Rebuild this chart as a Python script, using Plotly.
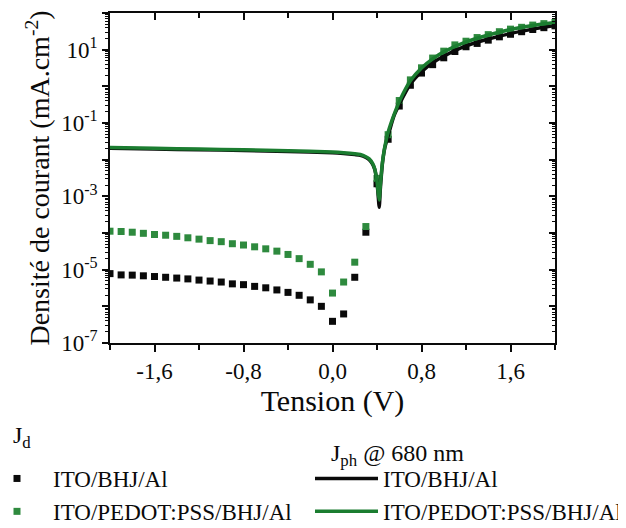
import plotly.graph_objects as go

# ---------------- data ----------------
v_dark = [-2.0, -1.9, -1.8, -1.7, -1.6, -1.5, -1.4, -1.3, -1.2, -1.1, -1.0,
          -0.9, -0.8, -0.7, -0.6, -0.5, -0.4, -0.3, -0.2, -0.1, 0.0,
          0.1, 0.2, 0.3, 0.4, 0.5, 0.6, 0.7, 0.8, 0.9, 1.0,
          1.1, 1.2, 1.3, 1.4, 1.5, 1.6, 1.7, 1.8, 1.9, 2.0]

jd_ito = [7.8e-6, 7.2e-6, 7.1e-6, 6.8e-6, 6.5e-6, 6.2e-6, 5.9e-6, 5.6e-6, 5.2e-6, 4.9e-6, 4.6e-6,
          4.1e-6, 3.9e-6, 3.5e-6, 3.2e-6, 2.8e-6, 2.4e-6, 2.0e-6, 1.5e-6, 1.0e-6, 3.9e-7,
          6.2e-7, 6.2e-6, 1.05e-4, 2.2e-3, 3.6e-2, 0.29, 1.07, 2.3, 3.9, 6.0,
          8.9, 12.0, 14.8, 18.2, 22.4, 26.3, 30.9, 35.5, 39.8, 44.7]

jd_pedot = [1.12e-4, 1.10e-4, 1.05e-4, 9.8e-5, 9.1e-5, 8.7e-5, 8.1e-5, 7.4e-5, 6.8e-5, 6.2e-5, 5.8e-5,
            5.1e-5, 4.7e-5, 4.2e-5, 3.7e-5, 3.2e-5, 2.6e-5, 2.0e-5, 1.4e-5, 8.7e-6, 2.3e-6,
            4.6e-6, 1.6e-5, 1.5e-4, 3.1e-3, 4.8e-2, 0.41, 1.5, 3.2, 5.9, 9.1,
            13.5, 17.0, 21.4, 25.7, 30.9, 36.3, 40.7, 46.8, 51.3, 55.0]

v_ph = [-2.0, -1.6, -1.2, -0.8, -0.4, 0.0, 0.1, 0.2, 0.25, 0.3, 0.33, 0.36, 0.38,
        0.40, 0.41, 0.42, 0.43, 0.44, 0.45, 0.47, 0.5, 0.55, 0.6, 0.7, 0.8, 0.9,
        1.0, 1.2, 1.4, 1.6, 1.8, 2.0]

jph_ito = [0.0204, 0.0195, 0.0186, 0.0178, 0.0166, 0.0155, 0.0148, 0.0138, 0.0132, 0.0115,
           0.0100, 0.0076, 0.0054, 0.0024, 0.0011, 0.0005, 0.0016, 0.0040, 0.0085, 0.021,
           0.045, 0.15, 0.32, 1.15, 2.5, 4.4, 6.6, 12.6, 19.5, 27.5, 36.3, 45.7]

jph_pedot = [0.0214, 0.0204, 0.0195, 0.0186, 0.0174, 0.0162, 0.0155, 0.0145, 0.0138, 0.0120,
             0.0105, 0.0079, 0.0056, 0.0025, 0.0013, 0.0008, 0.0020, 0.0045, 0.0089, 0.0224,
             0.056, 0.158, 0.38, 1.41, 3.16, 5.6, 8.7, 16.2, 25.1, 35.5, 45.7, 55.0]

x_major = [-1.6, -0.8, 0.0, 0.8, 1.6]
x_major_text = ["-1,6", "-0,8", "0,0", "0,8", "1,6"]
x_minor = [-2.0, -1.2, -0.4, 0.4, 1.2, 2.0]
y_major = [1e2, 1e1, 1e0, 1e-1, 1e-2, 1e-3, 1e-4, 1e-5, 1e-6, 1e-7]
y_major_text = ["", "10<sup>1</sup>", "", "10<sup>-1</sup>", "", "10<sup>-3</sup>", "",
                "10<sup>-5</sup>", "", "10<sup>-7</sup>"]
y_minor = [m * 10.0 ** e for e in range(-7, 2) for m in range(2, 10)]

# ---------------- style ----------------
SERIF = "Liberation Serif"
BLACK = "#0a0a0a"
GREEN_SQ = "#2e8a3e"
GREEN_LN = "#1b7d30"

# the page body has an 8 px margin, so the figure is drawn 8 px in from the window corner
OFF = 8
W, H = 626 - OFF, 528 - OFF
# target plot area in window pixels: left 110, right 555, top 13, bottom 343
L, R, T, B = 110 - OFF, 626 - 555, 13 - OFF, 528 - 343
PW, PH = W - L - R, H - T - B


def px_x(px):
    return (px - OFF - L) / PW


def px_y(py):
    return 1 - (py - OFF - T) / PH


fig = go.Figure()

fig.add_trace(go.Scatter(x=v_dark, y=jd_ito, mode="markers", name="ITO/BHJ/Al",
                         marker=dict(symbol="square", size=7, color=BLACK),
                         legend="legend"))
fig.add_trace(go.Scatter(x=v_dark, y=jd_pedot, mode="markers", name="ITO/PEDOT:PSS/BHJ/Al",
                         marker=dict(symbol="square", size=7, color=GREEN_SQ),
                         legend="legend"))
fig.add_trace(go.Scatter(x=v_ph, y=jph_ito, mode="lines", name="ITO/BHJ/Al",
                         line=dict(color=BLACK, width=3.5, shape="spline", smoothing=0.6),
                         legend="legend2"))
fig.add_trace(go.Scatter(x=v_ph, y=jph_pedot, mode="lines", name="ITO/PEDOT:PSS/BHJ/Al",
                         line=dict(color=GREEN_LN, width=3.5, shape="spline", smoothing=0.6),
                         legend="legend2"))
# empty trace anchoring the mirrored (top / right) axes
fig.add_trace(go.Scatter(x=[None], y=[None], xaxis="x2", yaxis="y2", showlegend=False,
                         hoverinfo="skip"))

tickfont = dict(family=SERIF, size=23, color=BLACK)
legfont = dict(family=SERIF, size=23, color=BLACK)

fig.update_layout(
    width=W, height=H,
    margin=dict(l=L, r=R, t=T, b=B, autoexpand=False),
    paper_bgcolor="white", plot_bgcolor="white",
    font=dict(family=SERIF, color=BLACK),
    showlegend=True,
    xaxis=dict(range=[-2.0, 2.0], showgrid=False, zeroline=False,
               showline=True, linecolor=BLACK, linewidth=1.5,
               ticks="outside", ticklen=7, tickwidth=1.5, tickcolor=BLACK,
               tickvals=x_major, ticktext=x_major_text, tickfont=tickfont,
               minor=dict(tickvals=x_minor, ticks="outside", ticklen=5, tickwidth=1.5,
                          tickcolor=BLACK, showgrid=False),
               title=dict(text="Tension (V)", font=dict(family=SERIF, size=30, color=BLACK),
                          standoff=7)),
    yaxis=dict(type="log", range=[-7, 2], showgrid=False, zeroline=False,
               showline=True, linecolor=BLACK, linewidth=1.5,
               ticks="outside", ticklen=6, tickwidth=1.5, tickcolor=BLACK,
               tickvals=y_major, ticktext=y_major_text, tickfont=tickfont,
               minor=dict(tickvals=y_minor, ticks="outside", ticklen=3, tickwidth=1,
                          tickcolor=BLACK, showgrid=False),
               title=dict(text="Densité de courant (mA.cm<sup>-2</sup>)",
                          font=dict(family=SERIF, size=28, color=BLACK), standoff=3)),
    xaxis2=dict(overlaying="x", side="top", anchor="y", range=[-2.0, 2.0],
                showgrid=False, zeroline=False, showline=True, linecolor=BLACK,
                linewidth=1.5, ticks="inside", ticklen=7, tickwidth=1.5,
                tickcolor=BLACK, tickvals=x_major, showticklabels=False,
                minor=dict(tickvals=x_minor, ticks="inside", ticklen=5, tickwidth=1.5,
                           tickcolor=BLACK, showgrid=False)),
    yaxis2=dict(overlaying="y", side="right", anchor="x", type="log", range=[-7, 2],
                showgrid=False, zeroline=False, showline=True, linecolor=BLACK,
                linewidth=1.5, ticks="inside", ticklen=6, tickwidth=1.5,
                tickcolor=BLACK, tickvals=y_major, showticklabels=False,
                minor=dict(tickvals=y_minor, ticks="inside", ticklen=3, tickwidth=1,
                           tickcolor=BLACK, showgrid=False)),
    legend=dict(x=px_x(-19), y=px_y(457), xanchor="left", yanchor="top",
                bgcolor="rgba(0,0,0,0)", tracegroupgap=0, itemwidth=62,
                font=legfont),
    legend2=dict(x=px_x(310), y=px_y(457), xanchor="left", yanchor="top",
                 bgcolor="rgba(0,0,0,0)", tracegroupgap=0, itemwidth=63,
                 font=legfont),
    annotations=[
        dict(text="J<sub>d</sub>", xref="paper", yref="paper",
             x=px_x(11), y=px_y(437), xanchor="left", yanchor="middle",
             showarrow=False, font=dict(family=SERIF, size=24, color=BLACK)),
        dict(text="J<sub>ph</sub> @ 680 nm", xref="paper", yref="paper",
             x=px_x(329), y=px_y(455), xanchor="left", yanchor="middle",
             showarrow=False, font=dict(family=SERIF, size=24, color=BLACK)),
    ],
)

fig.write_html("out.html")
